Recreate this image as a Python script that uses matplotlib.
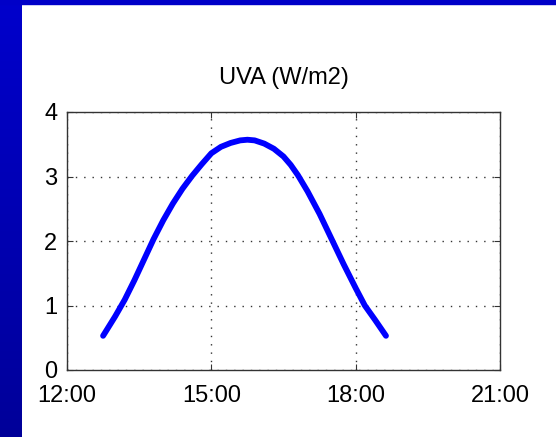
import matplotlib
matplotlib.use('Agg')
import matplotlib.pyplot as plt
import numpy as np
from matplotlib.patches import Rectangle

# UVA irradiance over the afternoon (hours, W/m2)
hours = [12.75, 13.0, 13.2, 13.4, 13.6, 13.8, 14.0, 14.2, 14.4, 14.6, 14.8,
         15.0, 15.2, 15.4, 15.6, 15.75, 15.9, 16.1, 16.3, 16.5, 16.65, 16.8,
         17.0, 17.25, 17.5, 17.75, 18.0, 18.19, 18.4, 18.63]
uva = [0.53, 0.83, 1.09, 1.39, 1.71, 2.03, 2.32, 2.58, 2.81, 3.01, 3.19,
       3.36, 3.46, 3.52, 3.56, 3.57, 3.56, 3.51, 3.43, 3.31, 3.18, 3.02,
       2.77, 2.42, 2.03, 1.64, 1.27, 1.0, 0.78, 0.53]
xticks = [12, 15, 18, 21]
xticklabels = ['12:00', '15:00', '18:00', '21:00']
yticks = [0, 1, 2, 3, 4]

plt.rcParams['font.family'] = ['Liberation Sans', 'DejaVu Sans']

fig = plt.figure(figsize=(5.56, 4.37), dpi=100)
fig.patch.set_facecolor('white')

# slide decoration: blue bar on top, gradient band on the left
fig.patches.append(Rectangle((0, 1 - 4 / 437), 1, 4 / 437, transform=fig.transFigure,
                             color='#0000c8', zorder=0))
band = fig.add_axes([0, 0, 22 / 556, 1])
grad = np.linspace(0, 1, 256)
cols = np.zeros((256, 1, 3))
cols[:, 0, 2] = 0.80 - 0.2 * grad
band.imshow(cols, aspect='auto', extent=[0, 1, 0, 1])
band.axis('off')

ax = fig.add_axes([67 / 556, 67 / 437, 433 / 556, 258 / 437])
ax.plot(hours, uva, color='#0000ff', lw=4.2, solid_capstyle='round',
        solid_joinstyle='round')

ax.set_xlim(12, 21)
ax.set_ylim(0, 4)
ax.set_xticks(xticks)
ax.set_xticklabels(xticklabels)
ax.set_yticks(yticks)
ax.grid(True, color='0.2', linestyle=(0, (1, 5)), linewidth=1.0)
ax.tick_params(direction='in', length=4, width=0.8, color='0.2', labelsize=17,
               top=True, right=True)
ax.tick_params(axis='x', pad=11)
ax.tick_params(axis='y', pad=7)
for s in ax.spines.values():
    s.set_color('0.2')
    s.set_linewidth(1.0)
ax.set_title('UVA (W/m2)', fontsize=17, pad=20)

fig.savefig('out.png', dpi=100)
